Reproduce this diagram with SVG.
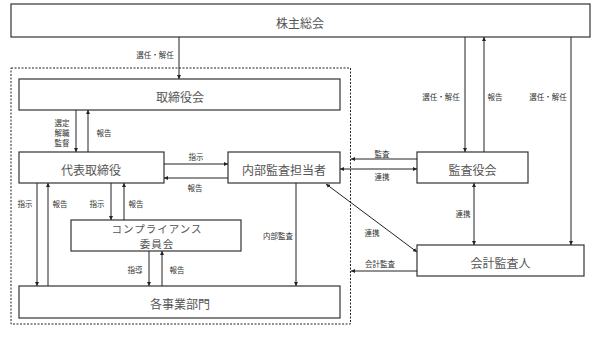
<svg xmlns="http://www.w3.org/2000/svg" width="598" height="359" viewBox="0 0 598 359">
<style>
.box{fill:#fff;stroke:#333;stroke-width:1.2}
.bt{font-family:"Noto Sans CJK JP","Liberation Serif",serif;font-size:12px;fill:#555;text-anchor:middle;dominant-baseline:central}
.bs{font-size:10.5px;letter-spacing:1px}
.lb{font-family:"Noto Sans CJK JP","Liberation Sans",sans-serif;font-size:7.5px;fill:#333;text-anchor:middle;dominant-baseline:central}
.ln{stroke:#222;stroke-width:1;fill:none}
.dash{fill:none;stroke:#222;stroke-width:1;stroke-dasharray:2,1.5}
</style>
<defs>
<marker id="ah" viewBox="0 0 6 6" refX="6" refY="3" markerWidth="4" markerHeight="4" markerUnits="userSpaceOnUse" orient="auto-start-reverse">
<path d="M0,0 L6,3 L0,6 z" fill="#222"/>
</marker>
</defs>
<rect width="598" height="359" fill="#fff"/>
<rect class="dash" x="11" y="68" width="339.5" height="256"/>
<g id="kabunushi"><rect class="box" x="11" y="4" width="579" height="33"/><text class="bt" x="300" y="22">株主総会</text></g>
<g id="torishimariyakukai"><rect class="box" x="19" y="79" width="321" height="31"/><text class="bt" x="180" y="96">取締役会</text></g>
<g id="daihyo"><rect class="box" x="19" y="152" width="145" height="31"/><text class="bt" x="91" y="169">代表取締役</text></g>
<g id="naibu"><rect class="box" x="228" y="152" width="112" height="31"/><text class="bt" x="284" y="169">内部監査担当者</text></g>
<g id="kansayakukai"><rect class="box" x="417" y="152" width="111" height="31"/><text class="bt" x="472.5" y="169">監査役会</text></g>
<g id="compliance"><rect class="box" x="71" y="220" width="170" height="31"/><text class="bt bs" x="157" y="228">コンプライアンス</text><text class="bt bs" x="157" y="243.5">委員会</text></g>
<g id="jigyobumon"><rect class="box" x="19" y="286" width="321" height="32"/><text class="bt" x="180" y="303.5">各事業部門</text></g>
<g id="kaikei"><rect class="box" x="417" y="245" width="167" height="31"/><text class="bt" x="500.5" y="262">会計監査人</text></g>
<g id="connectors">
<line class="ln" x1="179" y1="37" x2="179" y2="79" marker-end="url(#ah)"/>
<text class="lb" x="155" y="54">選任・解任</text>
<line class="ln" x1="76" y1="110" x2="76" y2="152" marker-end="url(#ah)"/>
<line class="ln" x1="88" y1="152" x2="88" y2="110" marker-end="url(#ah)"/>
<text class="lb" x="62" y="122">選定</text>
<text class="lb" x="62" y="132">解職</text>
<text class="lb" x="62" y="142">監督</text>
<text class="lb" x="104" y="132">報告</text>
<line class="ln" x1="164" y1="164" x2="228" y2="164" marker-end="url(#ah)"/>
<text class="lb" x="196" y="156">指示</text>
<line class="ln" x1="228" y1="178" x2="164" y2="178" marker-end="url(#ah)"/>
<text class="lb" x="195" y="187">報告</text>
<line class="ln" x1="465" y1="37" x2="465" y2="152" marker-end="url(#ah)"/>
<line class="ln" x1="484" y1="152" x2="484" y2="37" marker-end="url(#ah)"/>
<line class="ln" x1="571" y1="37" x2="571" y2="245" marker-end="url(#ah)"/>
<text class="lb" x="441" y="96">選任・解任</text>
<text class="lb" x="495" y="96">報告</text>
<text class="lb" x="548" y="96">選任・解任</text>
<line class="ln" x1="417" y1="159" x2="351" y2="159" marker-end="url(#ah)"/>
<text class="lb" x="382" y="153">監査</text>
<line class="ln" x1="340" y1="169" x2="417" y2="169" marker-start="url(#ah)" marker-end="url(#ah)"/>
<text class="lb" x="382" y="176">連携</text>
<line class="ln" x1="326" y1="184" x2="417" y2="252" marker-start="url(#ah)" marker-end="url(#ah)"/>
<text class="lb" x="372" y="232">連携</text>
<line class="ln" x1="474" y1="183" x2="474" y2="245" marker-start="url(#ah)" marker-end="url(#ah)"/>
<text class="lb" x="463" y="213">連携</text>
<line class="ln" x1="417" y1="271" x2="351" y2="271" marker-end="url(#ah)"/>
<text class="lb" x="380" y="263">会計監査</text>
<line class="ln" x1="37" y1="183" x2="37" y2="286" marker-end="url(#ah)"/>
<line class="ln" x1="48" y1="286" x2="48" y2="183" marker-end="url(#ah)"/>
<text class="lb" x="25" y="203">指示</text>
<text class="lb" x="60" y="203">報告</text>
<line class="ln" x1="111" y1="183" x2="111" y2="220" marker-end="url(#ah)"/>
<line class="ln" x1="124" y1="220" x2="124" y2="183" marker-end="url(#ah)"/>
<text class="lb" x="97" y="203">指示</text>
<text class="lb" x="136" y="203">報告</text>
<line class="ln" x1="149" y1="251" x2="149" y2="286" marker-end="url(#ah)"/>
<line class="ln" x1="162" y1="286" x2="162" y2="251" marker-end="url(#ah)"/>
<text class="lb" x="135" y="269">指導</text>
<text class="lb" x="177" y="269">報告</text>
<line class="ln" x1="296" y1="183" x2="296" y2="286" marker-end="url(#ah)"/>
<text class="lb" x="278" y="235">内部監査</text>
</g>
</svg>
